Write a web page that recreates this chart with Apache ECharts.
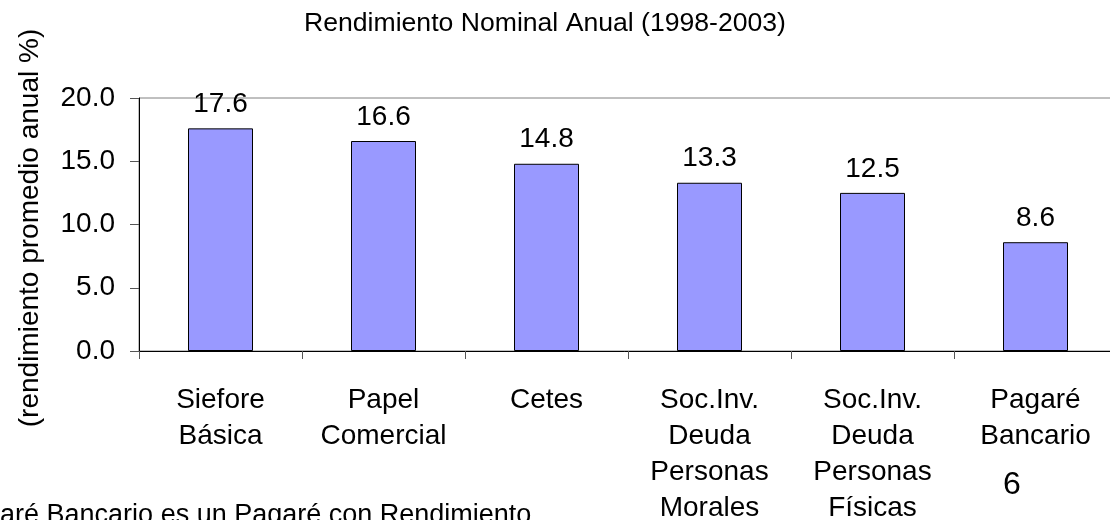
<!DOCTYPE html>
<html>
<head>
<meta charset="utf-8">
<script src="https://cdn.jsdelivr.net/npm/echarts@6/dist/echarts.min.js"></script>
<style>
  html, body { margin: 0; padding: 0; background: #fff; }
  #chart { width: 1110px; height: 520px; }
</style>
</head>
<body>
<div id="chart"></div>
<script>
// chart data
const categories = [
    'Siefore\nBásica',
    'Papel\nComercial',
    'Cetes',
    'Soc.Inv.\nDeuda\nPersonas\nMorales',
    'Soc.Inv.\nDeuda\nPersonas\nFísicas',
    'Pagaré\nBancario'
];
const rendimiento = [17.6, 16.6, 14.8, 13.3, 12.5, 8.6];
const yTicks = [0, 5, 20];   // min, interval, max

const titleText = 'Rendimiento Nominal Anual (1998-2003)';
const yAxisTitle = '(rendimiento promedio anual %)';
const footnote = 'Pagaré Bancario es un Pagaré con Rendimiento';
const pageNum = '6';

const font = '"Liberation Sans", Arial, sans-serif';

const chart = echarts.init(document.getElementById('chart'));

const option = {
    animation: false,
    backgroundColor: '#fff',
    title: {
        text: titleText,
        left: 540,
        top: 5,
        textAlign: 'center',
        textStyle: { fontFamily: font, fontSize: 26.6, fontWeight: 'normal', color: '#000' }
    },
    grid: {
        left: 139,
        top: 98,
        width: 978,
        height: 253,
        show: true,
        borderColor: '#808080',
        borderWidth: 1,
        containLabel: false,
        outerBoundsMode: 'none'
    },
    xAxis: {
        type: 'category',
        data: categories,
        axisLine: { lineStyle: { color: '#000', width: 1 } },
        axisTick: { show: true, length: 8, lineStyle: { color: '#555' } },
        axisLabel: {
            interval: 0,
            margin: 31,
            fontFamily: font,
            fontSize: 28,
            lineHeight: 36,
            color: '#000',
            align: 'center'
        }
    },
    yAxis: {
        type: 'value',
        min: yTicks[0],
        interval: yTicks[1],
        max: yTicks[2],
        axisLine: { show: true, lineStyle: { color: '#000', width: 1 } },
        axisTick: { show: true, length: 9, lineStyle: { color: '#555' } },
        splitLine: { show: false },
        axisLabel: {
            margin: 24,
            fontFamily: font,
            fontSize: 28,
            color: '#000',
            formatter: function (v) { return v.toFixed(1); }
        }
    },
    series: [{
        type: 'bar',
        data: rendimiento,
        barWidth: 65,
        itemStyle: { color: '#9999FF', borderColor: '#000', borderWidth: 1 },
        label: {
            show: true,
            position: 'top',
            distance: 10,
            fontFamily: font,
            fontSize: 28,
            color: '#000',
            formatter: function (p) { return p.value.toFixed(1); }
        }
    }],
    graphic: [
        {
            type: 'text',
            x: 30,
            y: 228,
            rotation: Math.PI / 2,
            style: {
                text: yAxisTitle,
                font: '28px ' + font,
                fill: '#000',
                align: 'center',
                verticalAlign: 'middle'
            }
        },
        {
            type: 'text',
            x: -48,
            y: 515.5,
            style: {
                text: footnote,
                font: '27px ' + font,
                fill: '#000',
                align: 'left',
                verticalAlign: 'middle'
            }
        },
        {
            type: 'text',
            x: 1012,
            y: 485,
            style: {
                text: pageNum,
                font: '32px ' + font,
                fill: '#000',
                align: 'center',
                verticalAlign: 'middle'
            }
        }
    ]
};

chart.setOption(option);
</script>
</body>
</html>
